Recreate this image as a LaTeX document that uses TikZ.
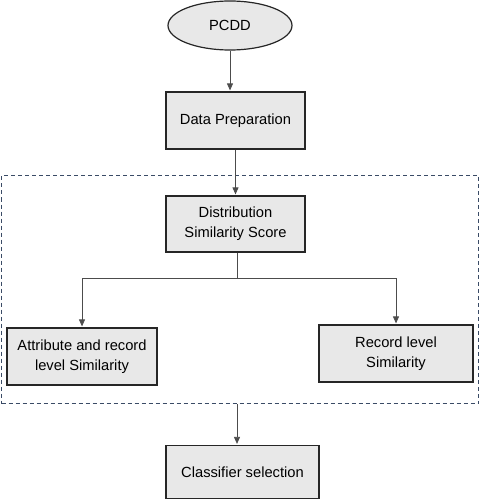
\documentclass[tikz,border=0pt]{standalone}
\usepackage{fontspec}
\setmainfont{Liberation Sans}
\usetikzlibrary{arrows.meta,shapes.geometric}
\definecolor{boxgray}{HTML}{E8E8E8}
\definecolor{dashblue}{HTML}{3A4B66}
\begin{document}
\begin{tikzpicture}[x=1pt,y=-1pt,
  box/.style={draw=black!85, line width=1.2pt, fill=boxgray, inner sep=0pt, align=center,
              font=\fontsize{14.7}{20}\selectfont},
  conn/.style={draw=black!70, line width=0.8pt},
  arr/.style={conn, -{Triangle[length=7pt,width=6pt]}, shorten >=1pt}]
\useasboundingbox (0,0) rectangle (480,500);
\node[draw=dashblue, dashed, dash pattern=on 4pt off 3pt, line width=1pt, minimum width=477pt, minimum height=228pt, inner sep=0pt] (grp) at (240,289.5) {};
\node[box, ellipse, minimum width=124pt, minimum height=49pt] (pcdd) at (230,25.5) {PCDD};
\node[box, minimum width=139pt, minimum height=57pt] (prep) at (235.5,120.5) {Data Preparation};
\node[box, minimum width=139pt, minimum height=56pt] (dist) at (235.5,224) {Distribution\\Similarity Score};
\node[box, minimum width=150pt, minimum height=57pt] (attr) at (82,356.5) {Attribute and record\\level Similarity};
\node[box, minimum width=154pt, minimum height=57pt] (rec) at (396,353.5) {Record level\\Similarity};
\node[box, minimum width=153pt, minimum height=53pt] (cls) at (242.5,472) {Classifier selection};
\coordinate (br) at (237,278);
\draw[arr] (pcdd.south) -- (pcdd.south |- prep.north);
\draw[arr] (prep.south) -- (dist.north);
\draw[conn] (br |- dist.south) -- (br);
\draw[arr] (br) -| (attr.north);
\draw[arr] (br) -| (rec.north);
\draw[arr] (br |- grp.south) -- (br |- cls.north);
\end{tikzpicture}
\end{document}
